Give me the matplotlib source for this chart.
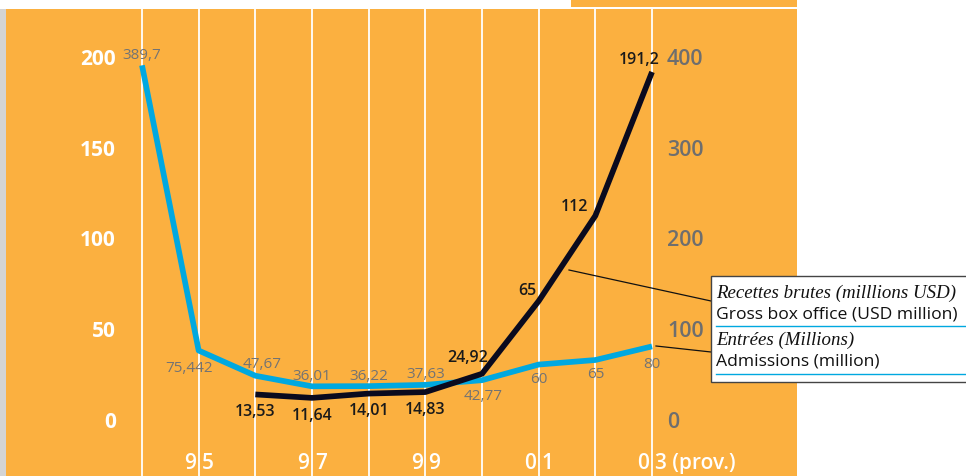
import matplotlib
matplotlib.use("Agg")
import matplotlib.pyplot as plt
from matplotlib.patches import Rectangle
from matplotlib.lines import Line2D
from matplotlib.transforms import blended_transform_factory

# data
years = [1994, 1995, 1996, 1997, 1998, 1999, 2000, 2001, 2002, 2003]
admissions = [389.7, 75.442, 47.67, 36.01, 36.22, 37.63, 42.77, 60, 65, 80]
adm_labels = ["389,7", "75,442", "47,67", "36,01", "36,22", "37,63", "42,77", "60", "65", "80"]
gross_years = [1996, 1997, 1998, 1999, 2000, 2001, 2002, 2003]
gross = [13.53, 11.64, 14.01, 14.83, 24.92, 65, 112, 191.2]
gross_labels = ["13,53", "11,64", "14,01", "14,83", "24,92", "65", "112", "191,2"]
left_ticks = [0, 50, 100, 150, 200]
right_ticks = [0, 100, 200, 300, 400]
xlab_years = [1995, 1997, 1999, 2001, 2003]
xlab_left = ["9", "9", "9", "0", "0"]
xlab_right = ["5", "7", "9", "1", "3 (prov.)"]

ORANGE = "#FBB040"
BLUE = "#00A8E0"
DARK = "#0A0A1E"
GREY = "#737373"
SANS = "Open Sans"

W, H = 966, 477
fig = plt.figure(figsize=(W / 100, H / 100), dpi=100)
fig.patch.set_facecolor("white")

def fx(px):
    return px / W

def fy(py):
    return 1 - py / H

# backgrounds (behind the axes)
fig.patches.append(Rectangle((fx(0), fy(477)), fx(6), 467 / H, transform=fig.transFigure,
                             facecolor="#d4d4d4", edgecolor="none", zorder=-2))
fig.patches.append(Rectangle((fx(6), fy(477)), 791 / W, 467 / H, transform=fig.transFigure,
                             facecolor=ORANGE, edgecolor="none", zorder=-2))
fig.patches.append(Rectangle((fx(571), fy(8)), 226 / W, 8 / H, transform=fig.transFigure,
                             facecolor=ORANGE, edgecolor="none", zorder=-2))

# primary axis: admissions (right scale 0-400), twin: gross (left scale 0-200)
ax = fig.add_axes([fx(6), 0, 791 / W, 467 / H])
ax.patch.set_alpha(0)
px_per_year = 56.67
ax.set_xlim(1994 - 136 / px_per_year, 1994 + 655 / px_per_year)
ax.set_ylim((420 - 477) / 0.9075, (420 - 10) / 0.9075)
ax2 = ax.twinx()
ax2.set_ylim((420 - 477) / 1.815, (420 - 10) / 1.815)
for a in (ax, ax2):
    a.axis("off")

for yr in years:
    ax.axvline(yr, color="white", lw=1.3, zorder=1)

ax.plot(years, admissions, color=BLUE, lw=4.1, solid_capstyle="butt", zorder=3)
ax2.plot(gross_years, gross, color=DARK, lw=4.1, solid_capstyle="butt", zorder=4)

# admissions labels (offsets in points)
adm_off = [(0, 8), (-7, -12), (5, 9), (0, 8), (0, 8), (0, 8), (1, -11), (0, -10), (0, -10), (0, -12)]
for x, y, s, o in zip(years, admissions, adm_labels, adm_off):
    ax.annotate(s, (x, y), xytext=o, textcoords="offset points", ha="center", va="center",
                fontsize=11, color=GREY, family=SANS, zorder=5)

gross_off = [(0, -12), (0, -12.5), (0, -12), (0, -12), (-10, 12), (-8, 8), (-15, 7), (-9, 9)]
for x, y, s, o in zip(gross_years, gross, gross_labels, gross_off):
    ax2.annotate(s, (x, y), xytext=o, textcoords="offset points", ha="center", va="center",
                 fontsize=11.5, color="#1a1a1a", family=SANS, fontweight="semibold", zorder=5)

# axis labels
tl = blended_transform_factory(fig.transFigure, ax2.transData)
for v in left_ticks:
    fig.text(fx(116), v, str(v), transform=tl, ha="right", va="center_baseline",
             fontsize=15, color="white", fontweight="bold", family=SANS)
tr = blended_transform_factory(fig.transFigure, ax.transData)
for v in right_ticks:
    fig.text(fx(667), v, str(v), transform=tr, ha="left", va="center_baseline",
             fontsize=15.5, color="#6e6e6e", fontweight="semibold", family=SANS)

tx = blended_transform_factory(ax.transData, fig.transFigure)
for yr, l, r in zip(xlab_years, xlab_left, xlab_right):
    ax.annotate(l, (yr, fy(461)), xycoords=tx, xytext=(-2, 0), textcoords="offset points",
                ha="right", va="center_baseline", fontsize=15, color="white", family=SANS,
                fontweight="semibold")
    ax.annotate(r, (yr, fy(461)), xycoords=tx, xytext=(2, 0), textcoords="offset points",
                ha="left", va="center_baseline", fontsize=15, color="white", family=SANS,
                fontweight="semibold")

# legend box
fig.patches.append(Rectangle((fx(711), fy(383)), 260 / W, 106 / H, transform=fig.transFigure,
                             facecolor="white", edgecolor="#444444", lw=1, zorder=6))
fig.lines.append(Line2D([fx(569), fx(711)], [fy(271), fy(302)], transform=fig.transFigure,
                        color="#111111", lw=0.9, zorder=6))
fig.lines.append(Line2D([fx(656), fx(711)], [fy(347), fy(353)], transform=fig.transFigure,
                        color="#111111", lw=0.9, zorder=6))
for py in (327, 375):
    fig.lines.append(Line2D([fx(716), fx(966)], [fy(py), fy(py)], transform=fig.transFigure,
                            color=BLUE, lw=1, zorder=7))
fig.text(fx(716), fy(293), "Recettes brutes (milllions USD)", ha="left", va="center",
         fontsize=13.6, style="italic", family="Liberation Serif", color="#111111", zorder=8)
fig.text(fx(716), fy(315), "Gross box office (USD million)", ha="left", va="center",
         fontsize=12.6, family=SANS, color="#111111", zorder=8)
fig.text(fx(716), fy(340), "Entrées (Millions)", ha="left", va="center",
         fontsize=13.6, style="italic", family="Liberation Serif", color="#111111", zorder=8)
fig.text(fx(716), fy(362), "Admissions (million)", ha="left", va="center",
         fontsize=12.6, family=SANS, color="#111111", zorder=8)

fig.savefig("out.png", dpi=100, facecolor=fig.get_facecolor())
